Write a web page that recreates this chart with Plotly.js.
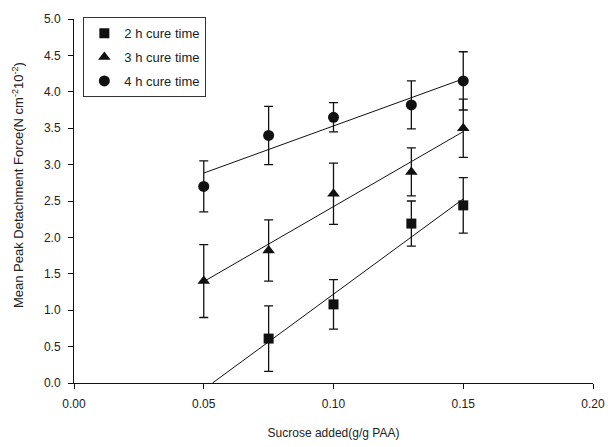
<!DOCTYPE html>
<html>
<head>
<meta charset="utf-8">
<script src="https://cdn.plot.ly/plotly-3.0.1.min.js"></script>
<style>html,body{margin:0;padding:0;background:#fff}#chart{width:608px;height:447px}</style>
</head>
<body>
<div id="chart"></div>
<script>
// Data
const seriesNames = ["2 h cure time", "3 h cure time", "4 h cure time"];
const x2h = [0.075, 0.10, 0.13, 0.15];
const y2h = [0.61, 1.08, 2.19, 2.44];
const e2h = [0.45, 0.34, 0.31, 0.38];

const x3h = [0.05, 0.075, 0.10, 0.13, 0.15];
const y3h = [1.40, 1.82, 2.60, 2.90, 3.50];
const e3h = [0.50, 0.42, 0.42, 0.33, 0.40];

const x4h = [0.05, 0.075, 0.10, 0.13, 0.15];
const y4h = [2.70, 3.40, 3.65, 3.82, 4.15];
const e4h = [0.35, 0.40, 0.20, 0.33, 0.40];

const xTicks = [0, 0.05, 0.10, 0.15, 0.20];
const yTicks = [0, 0.5, 1, 1.5, 2, 2.5, 3, 3.5, 4, 4.5, 5];
const xTitle = 'Sucrose added(g/g PAA)';
const yTitle = 'Mean Peak Detachment Force(N cm<sup>-2</sup>10<sup>-2</sup>)';

function fit(xs, ys) {
  const n = xs.length;
  const mx = xs.reduce((a, b) => a + b, 0) / n;
  const my = ys.reduce((a, b) => a + b, 0) / n;
  let sxy = 0, sxx = 0;
  for (let i = 0; i < n; i++) { sxy += (xs[i] - mx) * (ys[i] - my); sxx += (xs[i] - mx) ** 2; }
  const m = sxy / sxx;
  return { m: m, b: my - m * mx };
}
function fitLine(xs, ys, clipZero) {
  const f = fit(xs, ys);
  let x0 = Math.min(...xs), x1 = Math.max(...xs);
  if (clipZero) { const xz = -f.b / f.m; x0 = Math.max(0, xz); }
  return {
    x: [x0, x1], y: [f.m * x0 + f.b, f.m * x1 + f.b],
    mode: 'lines', line: { color: '#111', width: 1 }, showlegend: false, hoverinfo: 'skip'
  };
}

const eb = arr => ({ type: 'data', array: arr, visible: true, color: '#111', thickness: 1.3, width: 4.5 });

const traces = [
  fitLine(x2h, y2h, true),
  fitLine(x3h, y3h, false),
  fitLine(x4h, y4h, false),
  { x: x2h, y: y2h, error_y: eb(e2h), mode: 'markers', name: seriesNames[0], legendgroup: 'a',
    marker: { symbol: 'square', size: 10, color: '#111' } },
  { x: x3h, y: y3h, error_y: eb(e3h), mode: 'markers', name: seriesNames[1], legendgroup: 'b',
    marker: { symbol: 'triangle-up', size: 11, color: '#111' } },
  { x: x4h, y: y4h, error_y: eb(e4h), mode: 'markers', name: seriesNames[2], legendgroup: 'c',
    marker: { symbol: 'circle', size: 11, color: '#111' } }
];

const layout = {
  width: 608, height: 447,
  margin: { l: 73.5, r: 15, t: 19, b: 64 },
  paper_bgcolor: '#fff', plot_bgcolor: '#fff',
  font: { family: 'Liberation Sans, Arial, sans-serif', size: 12, color: '#222' },
  xaxis: {
    range: [0, 0.2], tickvals: xTicks, tickformat: '.2f',
    showline: true, linecolor: '#111', linewidth: 1, ticks: 'outside', ticklen: 5, tickcolor: '#111',
    ticklabelstandoff: 5,
    showgrid: false, zeroline: false,
    title: { text: xTitle, font: { size: 12, color: '#222' }, standoff: 18 }
  },
  yaxis: {
    range: [0, 5], tickvals: yTicks, tickformat: '.1f',
    showline: true, linecolor: '#111', linewidth: 1, ticks: 'outside', ticklen: 5, tickcolor: '#111',
    ticklabelstandoff: 5,
    showgrid: false, zeroline: false
  },
  annotations: [{
    text: yTitle, textangle: -90, showarrow: false,
    xref: 'paper', yref: 'paper', x: -0.109, y: 0.545, xanchor: 'center', yanchor: 'middle',
    font: { size: 13, color: '#222' }
  }],
  legend: {
    x: 0.018, y: 1.005, xanchor: 'left', yanchor: 'top',
    bordercolor: '#333', borderwidth: 1, bgcolor: '#fff',
    traceorder: 'grouped', tracegroupgap: 4,
    font: { size: 13, color: '#222' }
  },
  showlegend: true
};

Plotly.newPlot('chart', traces, layout, { displayModeBar: false, staticPlot: true });
</script>
</body>
</html>
